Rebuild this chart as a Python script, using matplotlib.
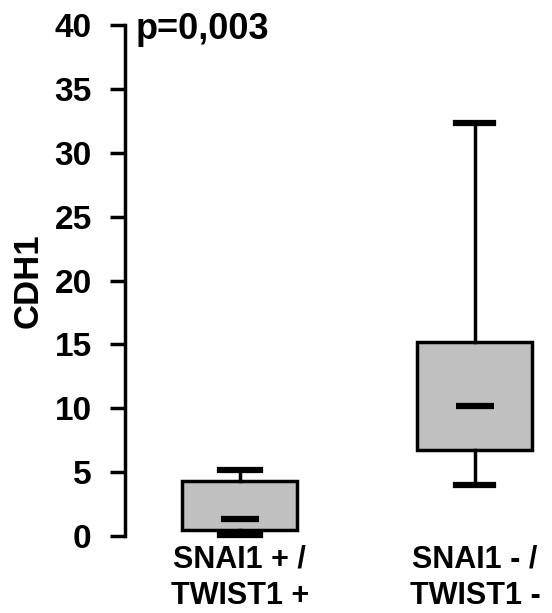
import matplotlib
matplotlib.use('Agg')
import matplotlib.pyplot as plt

plt.rcParams['font.family'] = ['Liberation Sans', 'DejaVu Sans']
plt.rcParams['font.weight'] = 'bold'

# values
groups = ['SNAI1 + /\nTWIST1 +', 'SNAI1 - /\nTWIST1 -']
whislo = [0.1, 4.0]
q1 = [0.5, 6.7]
med = [1.3, 10.2]
q3 = [4.3, 15.2]
whishi = [5.2, 32.3]
p_text = 'p=0,003'

fig = plt.figure(figsize=(5.52, 6.13), dpi=100)
ax = fig.add_axes([0.2264, 0.1256, 0.7736, 0.8336])

stats = []
for i in range(len(groups)):
    stats.append({'whislo': whislo[i], 'q1': q1[i], 'med': med[i],
                  'q3': q3[i], 'whishi': whishi[i], 'fliers': []})

pos = [1, 2]
bp = ax.bxp(stats, positions=pos, widths=0.49, capwidths=[0.17, 0.157],
            patch_artist=True, showfliers=False,
            boxprops=dict(facecolor='#c0c0c0', edgecolor='black', linewidth=2.5),
            whiskerprops=dict(color='black', linewidth=2.5),
            capprops=dict(color='black', linewidth=4.5),
            medianprops=dict(visible=False))
for art in bp['boxes'] + bp['whiskers'] + bp['caps']:
    art.set_clip_on(False)

# short thick median marks
ax.hlines(med, [p - 0.081 for p in pos], [p + 0.081 for p in pos],
          colors='black', linewidth=4.5, zorder=5)

ax.set_ylim(0, 40)
ax.set_xlim(0.511, 2.328)
ax.set_yticks(range(0, 41, 5))
ax.set_xticks(pos)
ax.set_xticklabels(groups, fontsize=22, fontweight='bold', linespacing=1.3)
ax.tick_params(axis='x', length=0, pad=6)
ax.tick_params(axis='y', direction='out', length=11, width=2.5, labelsize=24, pad=13)
for lab in ax.get_yticklabels():
    lab.set_fontweight('bold')

ax.spines['top'].set_visible(False)
ax.spines['right'].set_visible(False)
ax.spines['bottom'].set_visible(False)
ax.spines['left'].set_linewidth(2.5)

ax.set_ylabel('CDH1', fontsize=25, fontweight='bold', labelpad=7)
ax.text(0.555, 40, p_text, fontsize=26, fontweight='bold',
        va='center_baseline', ha='left')

fig.savefig('out.png', dpi=100)
